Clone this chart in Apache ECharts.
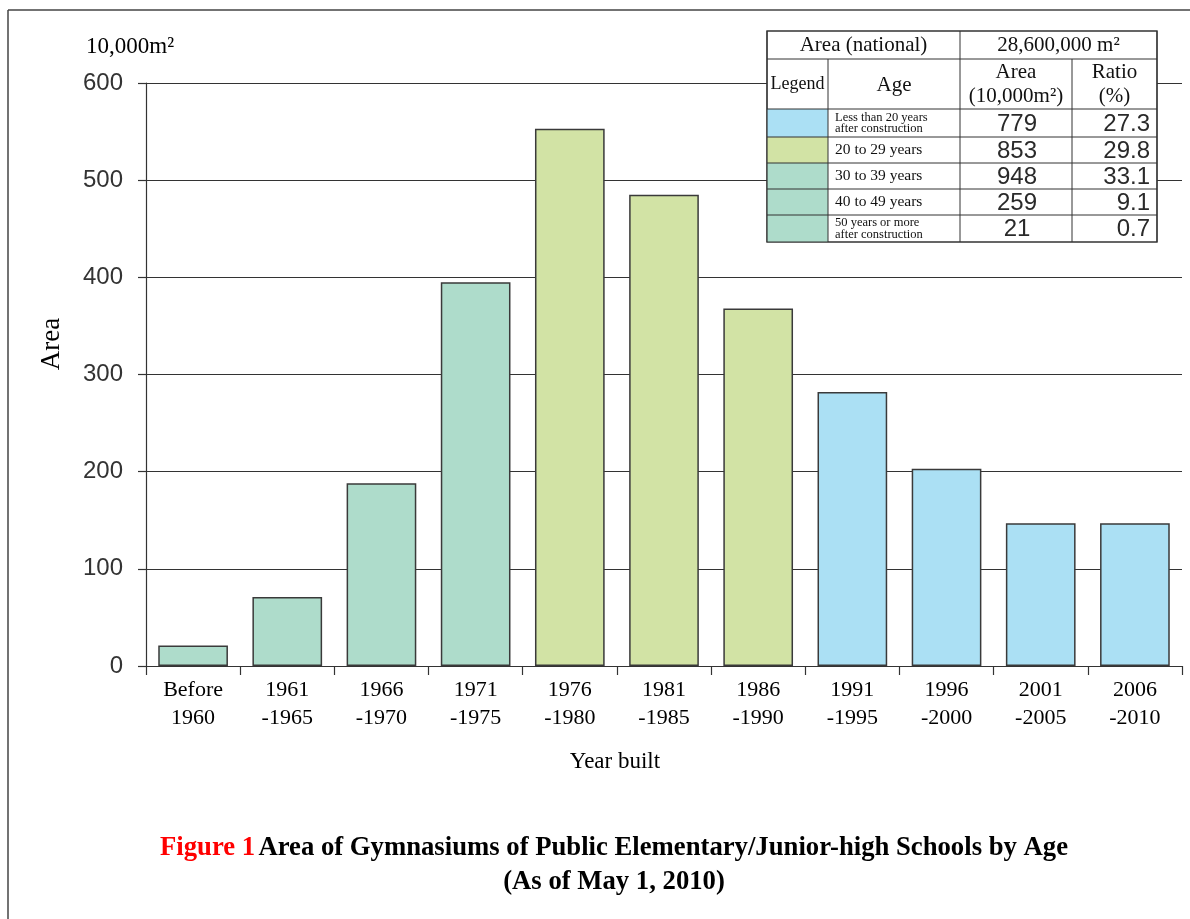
<!DOCTYPE html>
<html>
<head>
<meta charset="utf-8">
<script src="https://cdn.jsdelivr.net/npm/echarts@6/dist/echarts.min.js"></script>
<style>
  html, body { margin: 0; padding: 0; background: #fff; }
  #chart { width: 1190px; height: 919px; }
</style>
</head>
<body>
<div id="chart"></div>
<script>
// ---------- data ----------
const categories = ['Before\n1960', '1961\n-1965', '1966\n-1970', '1971\n-1975', '1976\n-1980',
  '1981\n-1985', '1986\n-1990', '1991\n-1995', '1996\n-2000', '2001\n-2005', '2006\n-2010'];
const areaValues = [21, 71, 188, 395, 553, 485, 368, 282, 203, 147, 147];
const barColorKeys = ['old', 'old', 'old', 'old', 'mid', 'mid', 'mid', 'new', 'new', 'new', 'new'];
const yTicks = [0, 100, 200, 300, 400, 500, 600];

const tableAgeLabels = ['Less than 20 years\nafter construction', '20 to 29 years', '30 to 39 years',
  '40 to 49 years', '50 years or more\nafter construction'];
const tableAreas = ['779', '853', '948', '259', '21'];
const tableRatios = ['27.3', '29.8', '33.1', '9.1', '0.7'];
const tableColorKeys = ['new', 'mid', 'old', 'old', 'old'];
const totalAreaText = '28,600,000 m²';

// ---------- styles ----------
const palette = { new: '#abe0f4', mid: '#d2e3a5', old: '#aedccb' };
const SERIF = '"Liberation Serif", "Times New Roman", serif';
const SANS = '"Liberation Sans", Arial, sans-serif';
const LINE = '#333';

// ---------- table graphic ----------
const cols = [767, 828, 960, 1072, 1157];
const rows = [31, 59, 109, 137, 163, 189, 215, 242];
const g = [];
g.push({ type: 'rect', z: 100, shape: { x: cols[0], y: rows[0], width: cols[4] - cols[0], height: rows[7] - rows[0] },
  style: { fill: '#fff', stroke: LINE, lineWidth: 1.2 } });
tableColorKeys.forEach((k, i) => {
  g.push({ type: 'rect', z: 101, shape: { x: cols[0], y: rows[i + 2], width: cols[1] - cols[0], height: rows[i + 3] - rows[i + 2] },
    style: { fill: palette[k] } });
});
for (let r = 1; r < rows.length - 1; r++) {
  g.push({ type: 'line', z: 102, shape: { x1: cols[0], y1: rows[r], x2: cols[4], y2: rows[r] }, style: { stroke: LINE, lineWidth: 1 } });
}
g.push({ type: 'line', z: 102, shape: { x1: cols[2], y1: rows[0], x2: cols[2], y2: rows[7] }, style: { stroke: LINE, lineWidth: 1 } });
g.push({ type: 'line', z: 102, shape: { x1: cols[1], y1: rows[1], x2: cols[1], y2: rows[7] }, style: { stroke: LINE, lineWidth: 1 } });
g.push({ type: 'line', z: 102, shape: { x1: cols[3], y1: rows[1], x2: cols[3], y2: rows[7] }, style: { stroke: LINE, lineWidth: 1 } });
g.push({ type: 'rect', z: 103, shape: { x: cols[0], y: rows[0], width: cols[4] - cols[0], height: rows[7] - rows[0] },
  style: { fill: 'none', stroke: LINE, lineWidth: 1.2 } });

function txt(x, y, text, font, align, extra) {
  g.push({ type: 'text', z: 104, x: x, y: y,
    style: Object.assign({ text: text, font: font, fill: '#111', align: align || 'center', verticalAlign: 'middle' }, extra || {}) });
}
txt((cols[0] + cols[2]) / 2, 45, 'Area (national)', '21px ' + SERIF);
txt((cols[2] + cols[4]) / 2, 45, totalAreaText, '21px ' + SERIF);
txt((cols[0] + cols[1]) / 2, 84, 'Legend', '18px ' + SERIF);
txt((cols[1] + cols[2]) / 2, 85, 'Age', '21px ' + SERIF);
txt((cols[2] + cols[3]) / 2, 84, 'Area\n(10,000m²)', '21px ' + SERIF, 'center', { lineHeight: 24 });
txt((cols[3] + cols[4]) / 2, 84, 'Ratio\n(%)', '21px ' + SERIF, 'center', { lineHeight: 24 });
tableAgeLabels.forEach((t, i) => {
  const cy = (rows[i + 2] + rows[i + 3]) / 2;
  const twoLine = t.indexOf('\n') >= 0;
  txt(cols[1] + 7, cy, t, (twoLine ? '12.5px ' : '15.5px ') + SERIF, 'left', { lineHeight: 11.5 });
  txt((cols[2] + cols[3]) / 2 + 1, cy + 1, tableAreas[i], '24px ' + SANS, 'center', { fill: '#2a2a2a' });
  txt(cols[4] - 7, cy + 1, tableRatios[i], '24px ' + SANS, 'right', { fill: '#2a2a2a' });
});

// frame lines
g.push({ type: 'line', z: 1, shape: { x1: 8, y1: 10, x2: 8, y2: 919 }, style: { stroke: '#444', lineWidth: 1.5 } });
g.push({ type: 'line', z: 1, shape: { x1: 8, y1: 10, x2: 1190, y2: 10 }, style: { stroke: '#444', lineWidth: 1.5 } });

// unit label
g.push({ type: 'text', z: 10, x: 86, y: 47, style: { text: '10,000m²', font: '23px ' + SERIF, fill: '#000', align: 'left', verticalAlign: 'middle' } });
// y axis title
g.push({ type: 'text', z: 10, x: 52, y: 344, rotation: Math.PI / 2, style: { text: 'Area', font: '27px ' + SERIF, fill: '#000', align: 'center', verticalAlign: 'middle' } });
// x axis title
g.push({ type: 'text', z: 10, x: 615, y: 762, style: { text: 'Year built', font: '23px ' + SERIF, fill: '#000', align: 'center', verticalAlign: 'middle' } });
// figure title
g.push({ type: 'text', z: 10, x: 614, y: 848, style: {
  text: '{r|Figure 1} {b|Area of Gymnasiums of Public Elementary/Junior-high Schools by Age}',
  align: 'center', verticalAlign: 'middle',
  rich: {
    r: { font: 'bold 26.7px ' + SERIF, fill: '#ff0000' },
    b: { font: 'bold 26.7px ' + SERIF, fill: '#000' }
  } } });
g.push({ type: 'text', z: 10, x: 614, y: 882, style: { text: '(As of May 1, 2010)', font: 'bold 26.7px ' + SERIF, fill: '#000', align: 'center', verticalAlign: 'middle' } });

// ---------- chart ----------
const chart = echarts.init(document.getElementById('chart'), null, { renderer: 'canvas' });
chart.setOption({
  animation: false,
  backgroundColor: '#fff',
  grid: { left: 146, right: 8, top: 83, bottom: 253, containLabel: false },
  xAxis: {
    type: 'category',
    data: categories,
    boundaryGap: true,
    axisLine: { show: true, lineStyle: { color: LINE, width: 1.2 } },
    axisTick: { show: true, alignWithLabel: false, length: 9, lineStyle: { color: LINE, width: 1.2 } },
    axisLabel: { fontFamily: SERIF, fontSize: 22, color: '#000', lineHeight: 28, margin: 10, interval: 0 }
  },
  yAxis: {
    type: 'value',
    min: yTicks[0], max: yTicks[yTicks.length - 1], interval: 100,
    axisLine: { show: true, lineStyle: { color: LINE, width: 1.2 } },
    axisTick: { show: true, length: 8, lineStyle: { color: LINE, width: 1.2 } },
    axisLabel: { fontFamily: SANS, fontSize: 24, color: '#333', margin: 23 },
    splitLine: { show: true, lineStyle: { color: LINE, width: 1.2 } }
  },
  series: [{
    type: 'bar',
    data: areaValues.map((v, i) => ({ value: v, itemStyle: { color: palette[barColorKeys[i]] } })),
    barCategoryGap: '26%',
    itemStyle: { borderColor: '#3a3a3a', borderWidth: 1.5 },
    z: 5
  }],
  graphic: { elements: g }
});
</script>
</body>
</html>
